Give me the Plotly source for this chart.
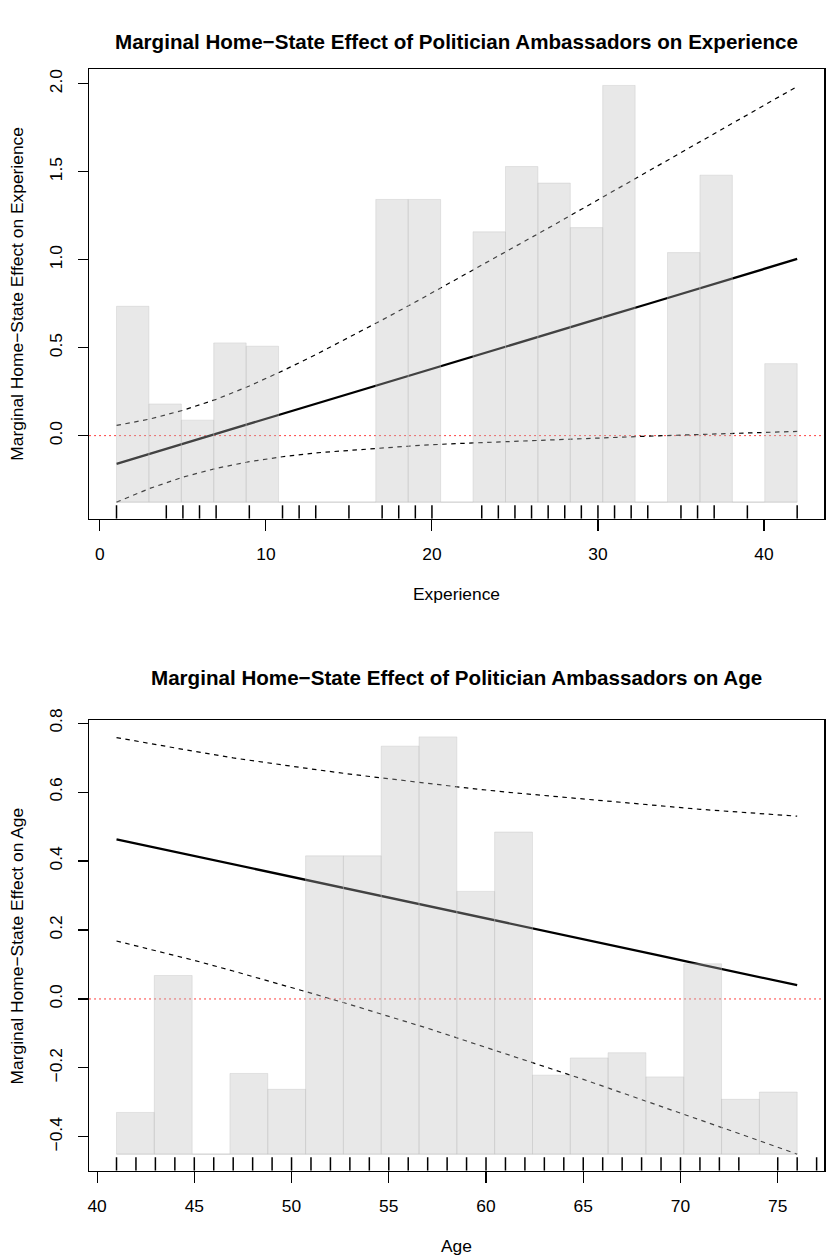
import plotly.graph_objects as go

# ---------------- Experience panel data ----------------
exp_x = [1, 3, 5, 7, 9, 11, 13, 15, 17, 19, 21, 23, 25, 27, 29, 31, 33, 35, 37, 39, 41, 42]
exp_fit = [-0.160, -0.103, -0.046, 0.010, 0.067, 0.124, 0.181, 0.237, 0.294, 0.351, 0.408,
           0.464, 0.521, 0.578, 0.635, 0.692, 0.748, 0.805, 0.862, 0.919, 0.975, 1.004]
exp_upper = [0.058, 0.094, 0.144, 0.206, 0.282, 0.368, 0.460, 0.557, 0.657, 0.759, 0.863,
             0.967, 1.073, 1.179, 1.286, 1.393, 1.499, 1.607, 1.714, 1.822, 1.929, 1.984]
exp_lower = [-0.378, -0.300, -0.236, -0.186, -0.148, -0.120, -0.098, -0.083, -0.069, -0.057, -0.047,
             -0.039, -0.031, -0.023, -0.016, -0.009, -0.003, 0.003, 0.010, 0.016, 0.021, 0.024]
exp_bin_edges = [1.0, 2.952, 4.905, 6.857, 8.810, 10.762, 12.714, 14.667, 16.619, 18.571, 20.524,
                 22.476, 24.429, 26.381, 28.333, 30.286, 32.238, 34.190, 36.143, 38.095, 40.048, 42.0]
exp_bin_top = [0.735, 0.180, 0.088, 0.527, 0.508, None, None, None, 1.342, 1.342, None,
               1.158, 1.529, 1.435, 1.182, 1.990, None, 1.040, 1.480, None, 0.409]
exp_rug = [1, 4, 5, 6, 7, 9, 11, 12, 13, 15, 17, 18, 19, 20, 23, 24, 25, 26, 27, 28,
           29, 30, 31, 32, 33, 35, 36, 37, 39, 42]

# ---------------- Age panel data ----------------
age_x = [41, 43, 45, 47, 49, 51, 53, 55, 57, 59, 61, 63, 65, 67, 69, 71, 73, 75, 76]
age_fit = [0.463, 0.439, 0.415, 0.390, 0.366, 0.342, 0.318, 0.294, 0.270, 0.245,
           0.221, 0.197, 0.173, 0.149, 0.125, 0.100, 0.076, 0.052, 0.040]
age_upper = [0.758, 0.737, 0.718, 0.699, 0.682, 0.667, 0.652, 0.638, 0.625, 0.612,
             0.600, 0.590, 0.579, 0.570, 0.560, 0.550, 0.542, 0.534, 0.530]
age_lower = [0.168, 0.141, 0.112, 0.081, 0.050, 0.017, -0.016, -0.050, -0.085, -0.122,
             -0.158, -0.196, -0.233, -0.272, -0.310, -0.350, -0.390, -0.430, -0.450]
age_bin_edges = [41.0, 42.944, 44.889, 46.833, 48.778, 50.722, 52.667, 54.611, 56.556, 58.5,
                 60.444, 62.389, 64.333, 66.278, 68.222, 70.167, 72.111, 74.056, 76.0]
age_bin_top = [-0.329, 0.068, None, -0.216, -0.262, 0.415, 0.415, 0.733, 0.760, 0.312,
               0.484, -0.221, -0.171, -0.156, -0.226, 0.102, -0.291, -0.270]
age_rug = [41, 42, 43, 44, 45, 46, 47, 48, 49, 50, 51, 52, 53, 54, 55, 56, 57, 58, 59, 60,
           61, 62, 63, 64, 65, 66, 67, 68, 69, 70, 71, 72, 73, 75, 76, 77]

titles = ["Marginal Home\u2212State Effect of Politician Ambassadors on Experience",
          "Marginal Home\u2212State Effect of Politician Ambassadors on Age"]
xlabels = ["Experience", "Age"]
ylabels = ["Marginal Home\u2212State Effect on Experience",
           "Marginal Home\u2212State Effect on Age"]

# ---------------- styling / layout ----------------
W, H = 826, 1259
FONT = "Liberation Sans, Arial, Helvetica, sans-serif"
TICK_SIZE = 17.4
TITLE_SIZE = 20.6
BAR_FILL = "rgba(190,190,190,0.35)"
X_DOMAIN = [87.6 / W, 825.4 / W]


def yfrac(px):
    return 1 - px / H


def r_range(lo, hi):
    d = (hi - lo) * 0.04
    return [lo - d, hi + d]


panels = [
    dict(x=exp_x, fit=exp_fit, up=exp_upper, lo=exp_lower, edges=exp_bin_edges, tops=exp_bin_top,
         rug=exp_rug, top_px=57.3, bot_px=511.7, title_px=29.5, dtx=10, dty=0.5),
    dict(x=age_x, fit=age_fit, up=age_upper, lo=age_lower, edges=age_bin_edges, tops=age_bin_top,
         rug=age_rug, top_px=715.0, bot_px=1170.0, title_px=672.0, dtx=5, dty=0.2),
]

fig = go.Figure()
layout_axes = {}
annotations = []
shapes = []

for i, p in enumerate(panels):
    n = i + 1
    xa_main = "x" if n == 1 else "x2"
    ya_main = "y" if n == 1 else "y2"
    xa_ov = "x3" if n == 1 else "x4"
    ya_ov = "y3" if n == 1 else "y4"

    heights = [t for t in p["tops"] if t is not None]
    ymin = min(p["lo"])
    ymax = max(max(p["up"]), max(heights))
    xr = r_range(min(p["x"]), max(p["x"]))
    yr = r_range(ymin, ymax)
    ydom = [yfrac(p["bot_px"]), yfrac(p["top_px"])]

    # confidence band lines and fitted line (under the histogram)
    for key in ("up", "lo"):
        fig.add_trace(go.Scatter(x=p["x"], y=p[key], mode="lines", xaxis=xa_main, yaxis=ya_main,
                                 line=dict(color="black", width=1.2, dash="4.5px,4.5px"),
                                 showlegend=False, hoverinfo="skip"))
    fig.add_trace(go.Scatter(x=p["x"], y=p["fit"], mode="lines", xaxis=xa_main, yaxis=ya_main,
                             line=dict(color="black", width=2.3),
                             showlegend=False, hoverinfo="skip"))

    # semi-transparent histogram drawn on an overlay subplot (on top of the lines)
    edges = p["edges"]
    centers = [(edges[k] + edges[k + 1]) / 2 for k in range(len(edges) - 1)]
    widths = [edges[k + 1] - edges[k] for k in range(len(edges) - 1)]
    hts = [(t - ymin) if t is not None else 0 for t in p["tops"]]
    fig.add_trace(go.Bar(x=centers, y=hts, base=ymin, width=widths, xaxis=xa_ov, yaxis=ya_ov,
                         marker=dict(color=BAR_FILL, line=dict(color=BAR_FILL, width=1)),
                         showlegend=False, hoverinfo="skip"))
    fig.add_trace(go.Scatter(x=[edges[0], edges[-1]], y=[ymin, ymin], mode="lines",
                             xaxis=xa_ov, yaxis=ya_ov,
                             line=dict(color=BAR_FILL, width=1),
                             showlegend=False, hoverinfo="skip"))

    # rug
    rx, ry = [], []
    rug_top = yr[0] + 0.03 * (yr[1] - yr[0])
    for v in p["rug"]:
        rx += [v, v, None]
        ry += [yr[0], rug_top, None]
    fig.add_trace(go.Scatter(x=rx, y=ry, mode="lines", xaxis=xa_ov, yaxis=ya_ov,
                             line=dict(color="black", width=1.5), cliponaxis=False,
                             showlegend=False, hoverinfo="skip"))

    common = dict(showline=True, mirror=True, linecolor="black", linewidth=1.2,
                  ticks="outside", ticklen=10.5, tickwidth=1.1, tickcolor="black",
                  showgrid=False, zeroline=False,
                  tickfont=dict(family=FONT, size=TICK_SIZE, color="black"),
                  ticklabelstandoff=9)
    xname = "xaxis" if n == 1 else "xaxis2"
    yname = "yaxis" if n == 1 else "yaxis2"
    layout_axes[xname] = dict(domain=X_DOMAIN, range=xr, anchor=ya_main, dtick=p["dtx"], tick0=0,
                              **common)
    layout_axes[yname] = dict(domain=ydom, range=yr, anchor=xa_main, dtick=p["dty"], tick0=0,
                              tickformat=".1f", tickangle=-90, **common)
    layout_axes["xaxis%d" % (n + 2)] = dict(overlaying=xa_main, range=xr, visible=False,
                                             anchor=ya_ov)
    layout_axes["yaxis%d" % (n + 2)] = dict(overlaying=ya_main, range=yr, visible=False,
                                             anchor=xa_ov)

    # red dotted zero reference line
    shapes.append(dict(type="line", xref="%s domain" % xa_main, yref=ya_main,
                       x0=0, x1=1, y0=0, y1=0, layer="below",
                       line=dict(color="red", width=1, dash="1.5px,3.5px")))

    xc = (X_DOMAIN[0] + X_DOMAIN[1]) / 2
    annotations.append(dict(text="<b>%s</b>" % titles[i], xref="paper", yref="paper",
                            x=xc, y=yfrac(p["title_px"]), xanchor="center", yanchor="middle",
                            showarrow=False, font=dict(family=FONT, size=TITLE_SIZE, color="black")))
    annotations.append(dict(text=xlabels[i], xref="paper", yref="paper",
                            x=xc, y=yfrac(p["bot_px"] + 75.6), xanchor="center", yanchor="middle",
                            showarrow=False, font=dict(family=FONT, size=TICK_SIZE, color="black")))
    annotations.append(dict(text=ylabels[i], xref="paper", yref="paper", textangle=-90,
                            x=15 / W, y=(ydom[0] + ydom[1]) / 2, xanchor="center", yanchor="middle",
                            showarrow=False, font=dict(family=FONT, size=TICK_SIZE, color="black")))

fig.update_layout(width=W, height=H, margin=dict(l=0, r=0, t=0, b=0),
                  paper_bgcolor="white", plot_bgcolor="white", showlegend=False,
                  annotations=annotations, shapes=shapes, **layout_axes)

fig.write_html("out.html",
               config=dict(displayModeBar=False, staticPlot=True),
               post_script="document.body.style.margin='0';document.body.style.overflow='hidden';")
